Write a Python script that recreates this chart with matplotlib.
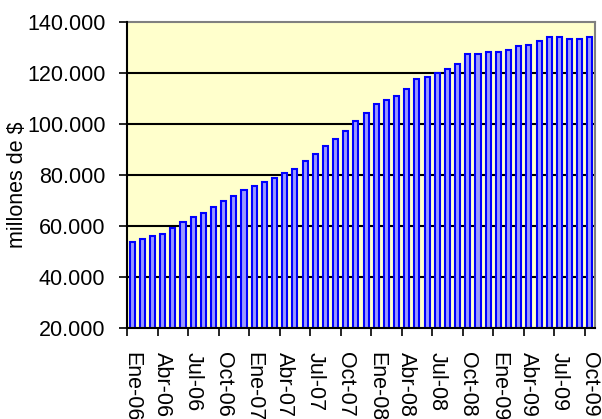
import matplotlib
matplotlib.use("Agg")
import matplotlib.pyplot as plt
import numpy as np

months = ["Ene", "Feb", "Mar", "Abr", "May", "Jun", "Jul", "Ago", "Sep", "Oct", "Nov", "Dic"]
categories = [f"{m}-{y:02d}" for y in (6, 7, 8, 9) for m in months][:46]

values = [53850, 54800, 56200, 56900, 59200, 61450, 63650, 65200, 67450, 69700,
          71900, 74100, 75600, 77100, 78700, 80800, 82350, 85350, 88200, 91350,
          94250, 97350, 101050, 104200, 107800, 109300, 110850, 113850, 117700, 118450,
          119850, 121400, 123650, 127300, 127400, 128100, 128100, 128900, 130400, 131100,
          132650, 134100, 134100, 133300, 133300, 134100]

y_ticks = [20000, 40000, 60000, 80000, 100000, 120000, 140000]
y_tick_labels = ["20.000", "40.000", "60.000", "80.000", "100.000", "120.000", "140.000"]

plt.rcParams['font.family'] = ['Liberation Sans', 'DejaVu Sans']

fig = plt.figure(figsize=(6.02, 4.19), dpi=100)
ax = fig.add_axes([127/602, 1 - 328/419, 468/602, 306/419])
ax.set_facecolor("#FFFFCC")

x = np.arange(len(values))
ax.bar(x, values, width=0.5, color="#9999FF", edgecolor="#0000FF", linewidth=1.5, zorder=3)

ax.set_xlim(-0.5, len(values) - 0.5)
ax.set_ylim(20000, 140000)

ax.set_yticks(y_ticks)
ax.set_yticklabels(y_tick_labels, fontsize=15.5)
ax.tick_params(axis='y', direction='out', length=6, width=1.2, pad=9.5)

for yv in y_ticks[1:-1]:
    ax.axhline(yv, color="black", linewidth=1.5, zorder=2)

label_idx = list(range(0, len(values), 3))
ax.set_xticks(label_idx)
ax.set_xticklabels([categories[i] for i in label_idx], rotation=-90, fontsize=15.5)
ax.tick_params(axis='x', which='major', length=0, pad=17)
ax.set_xticks([i - 0.5 for i in label_idx], minor=True)
ax.tick_params(axis='x', which='minor', direction='out', length=6, width=1.2)

for s in ("left", "bottom"):
    ax.spines[s].set_color("black")
    ax.spines[s].set_linewidth(1.5)
for s in ("top", "right"):
    ax.spines[s].set_color("#808080")
    ax.spines[s].set_linewidth(1.5)
ax.spines["left"].set_zorder(4)
ax.spines["bottom"].set_zorder(4)

fig.text(18/602, 1 - 185/419, "millones de $", rotation=90, fontsize=15.5,
         ha="center", va="center")

fig.savefig("out.png", dpi=100)
